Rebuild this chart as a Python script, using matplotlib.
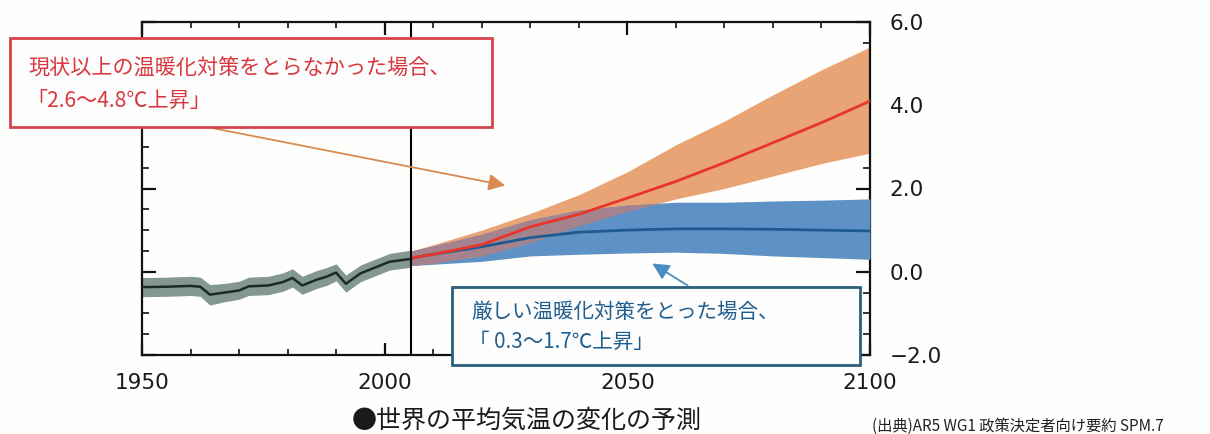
import matplotlib
matplotlib.use("Agg")
import matplotlib.pyplot as plt
import numpy as np
from matplotlib.patches import Rectangle, FancyArrowPatch
from matplotlib.ticker import MultipleLocator

# ---------------- data ----------------
hist_years = [1950, 1955, 1960, 1962, 1964, 1967, 1970, 1972, 1976, 1979, 1981, 1983, 1986, 1988, 1990, 1992, 1995, 1998, 2001, 2005.5]
hist_mean = [-0.37, -0.36, -0.34, -0.36, -0.55, -0.50, -0.45, -0.35, -0.33, -0.25, -0.15, -0.33, -0.19, -0.12, -0.02, -0.29, -0.04, 0.10, 0.24, 0.31]
hist_lo = [-0.60, -0.59, -0.57, -0.59, -0.80, -0.72, -0.66, -0.57, -0.55, -0.47, -0.37, -0.54, -0.40, -0.33, -0.22, -0.49, -0.24, -0.10, 0.04, 0.11]
hist_hi = [-0.14, -0.13, -0.11, -0.13, -0.31, -0.28, -0.23, -0.13, -0.11, -0.03, 0.07, -0.11, 0.03, 0.10, 0.19, -0.08, 0.16, 0.30, 0.44, 0.52]

proj_years = [2005.5, 2010, 2020, 2030, 2040, 2050, 2060, 2070, 2080, 2090, 2100]
rcp85_mean = [0.33, 0.42, 0.65, 1.08, 1.38, 1.77, 2.17, 2.62, 3.10, 3.58, 4.10]
rcp85_lo = [0.15, 0.20, 0.38, 0.70, 1.10, 1.45, 1.75, 2.00, 2.30, 2.60, 2.85]
rcp85_hi = [0.50, 0.65, 1.00, 1.40, 1.85, 2.40, 3.05, 3.62, 4.25, 4.85, 5.40]
rcp26_mean = [0.33, 0.42, 0.60, 0.82, 0.95, 1.00, 1.03, 1.03, 1.02, 1.00, 0.98]
rcp26_lo = [0.15, 0.18, 0.25, 0.38, 0.42, 0.45, 0.47, 0.44, 0.38, 0.34, 0.30]
rcp26_hi = [0.50, 0.62, 0.90, 1.25, 1.48, 1.60, 1.67, 1.67, 1.70, 1.72, 1.75]

x_ticks = [1950, 2000, 2050, 2100]
y_ticks = [-2.0, 0.0, 2.0, 4.0, 6.0]
y_tick_labels = ["−2.0", "0.0", "2.0", "4.0", "6.0"]
split_year = 2005.5

red_line1 = "現状以上の温暖化対策をとらなかった場合、"
red_line2 = "「2.6～4.8℃上昇」"
blue_line1 = "厳しい温暖化対策をとった場合、"
blue_line2 = "「 0.3～1.7℃上昇」"
caption = "●世界の平均気温の変化の予測"
source = "(出典)AR5 WG1 政策決定者向け要約 SPM.7"

# ---------------- figure ----------------
W, H = 1210, 434
fig = plt.figure(figsize=(W / 100, H / 100), dpi=100)
fig.patch.set_facecolor("#fefefc")

def fx(x):
    return x / W

def fy(y):
    return 1 - y / H

ax = fig.add_axes([fx(142), fy(355), fx(870) - fx(142), fy(22) - fy(355)])
ax.set_facecolor("#fefefc")
ax.set_xlim(1950, 2100)
ax.set_ylim(-2, 6)

py = np.array(proj_years)
r_lo, r_hi = np.array(rcp85_lo), np.array(rcp85_hi)
b_lo, b_hi = np.array(rcp26_lo), np.array(rcp26_hi)

ax.fill_between(hist_years, hist_lo, hist_hi, color="#83988f", lw=0, zorder=2)
ax.plot(hist_years, hist_mean, color="#1c2a27", lw=1.8, zorder=5)

ax.fill_between(py, r_lo, r_hi, color="#e9a476", lw=0, zorder=2)
ax.fill_between(py, b_lo, b_hi, color="#5e92c6", lw=0, zorder=3)
ov_lo = np.maximum(r_lo, b_lo)
ov_hi = np.minimum(r_hi, b_hi)
ax.fill_between(py, ov_lo, ov_hi, where=ov_hi > ov_lo, interpolate=True,
                color="#a4838f", lw=0, zorder=4)
ax.plot(py, rcp26_mean, color="#1f5b90", lw=2, zorder=6)
ax.plot(py, rcp85_mean, color="#e8352a", lw=2, zorder=7)

ax.axvline(split_year, color="black", lw=1.5, zorder=8)

for s in ax.spines.values():
    s.set_linewidth(1.6)
    s.set_color("#111111")

ax.set_xticks(x_ticks)
ax.set_xticklabels([str(v) for v in x_ticks])
ax.xaxis.set_minor_locator(MultipleLocator(10))
ax.set_yticks(y_ticks)
ax.set_yticklabels(y_tick_labels)
ax.yaxis.set_minor_locator(MultipleLocator(0.5))
ax.tick_params(axis="x", which="both", direction="in", top=True, bottom=True,
               labelsize=15.5, pad=13, colors="#111111", labelcolor="#1a1a1a")
ax.tick_params(axis="x", which="major", length=9, width=1.6)
ax.tick_params(axis="x", which="minor", length=4, width=1.2)
ax.tick_params(axis="y", which="both", direction="in", left=True, right=True,
               labelleft=False, labelright=True, labelsize=15.5, pad=14,
               colors="#111111", labelcolor="#1a1a1a")
ax.tick_params(axis="y", which="major", length=10, width=1.6)
ax.tick_params(axis="y", which="minor", length=5, width=1.2)
for lab in ax.get_xticklabels() + ax.get_yticklabels():
    lab.set_family("DejaVu Sans")

jp = ["Noto Sans CJK JP", "DejaVu Sans"]

# red box
fig.patches.append(Rectangle((fx(10), fy(127)), fx(492) - fx(10), fy(38) - fy(127),
                             transform=fig.transFigure, facecolor="#fdfdfd",
                             edgecolor="#d5434c", lw=2, zorder=10))
fig.text(fx(28), fy(69), red_line1, family=jp,
         fontsize=15.2, color="#d9363e", va="center", ha="left", zorder=11)
fig.text(fx(26), fy(101), red_line2, family=jp,
         fontsize=15.2, color="#d9363e", va="center", ha="left", zorder=11)

# blue box
fig.patches.append(Rectangle((fx(452), fy(365)), fx(860) - fx(452), fy(287) - fy(365),
                             transform=fig.transFigure, facecolor="#fdfdfd",
                             edgecolor="#2b5f7e", lw=2, zorder=10))
fig.text(fx(471), fy(312), blue_line1, family=jp,
         fontsize=14.8, color="#1f5d8e", va="center", ha="left", zorder=11)
fig.text(fx(469), fy(342), blue_line2, family=jp,
         fontsize=14.8, color="#1f5d8e", va="center", ha="left", zorder=11)

# arrows
fig.patches.append(FancyArrowPatch((fx(212), fy(128)), (fx(508), fy(186)),
                                   transform=fig.transFigure,
                                   arrowstyle="-|>,head_length=10,head_width=5",
                                   color="#d98b52", lw=1.3, zorder=9, mutation_scale=1))
fig.patches.append(FancyArrowPatch((fx(690), fy(287)), (fx(650), fy(262)),
                                   transform=fig.transFigure,
                                   arrowstyle="-|>,head_length=10,head_width=5",
                                   color="#4b8ec4", lw=1.3, zorder=9, mutation_scale=1))

fig.text(fx(352), fy(421), caption, family=jp, fontsize=18, color="#1a1a1a",
         va="center", ha="left")
fig.text(fx(872), fy(426), source, family=jp, fontsize=11, color="#222222",
         va="center", ha="left")

fig.savefig("out.png", dpi=100, facecolor=fig.get_facecolor())
